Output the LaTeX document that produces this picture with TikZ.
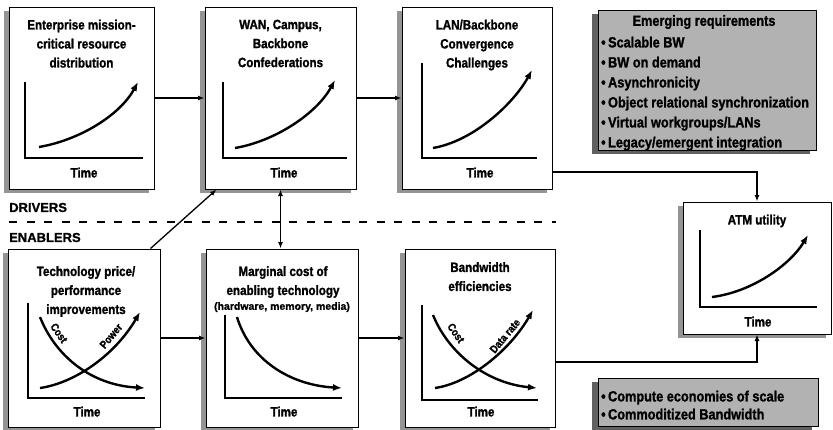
\documentclass[tikz,border=0pt]{standalone}
\usepackage{fontspec}
\setmainfont{Liberation Sans}[FakeStretch=0.86,BoldFeatures={FakeBold=1.3}]
\newfontfamily\widefont{Liberation Sans}[BoldFeatures={FakeBold=1.1}]
\usetikzlibrary{arrows.meta,shadows}
\begin{document}
\begin{tikzpicture}[x=1pt,y=-1pt,
  font=\bfseries\fontsize{13.5}{19}\selectfont,
  box/.style={draw,line width=1pt,fill=white,inner sep=0pt,
    general shadow={fill=black!42,shadow xshift=-5pt,shadow yshift=-4pt}},
  graybox/.style={draw,line width=1pt,fill=black!30,inner sep=0pt,
    general shadow={fill=black!62,shadow xshift=-6pt,shadow yshift=-4pt}},
  title/.style={align=center,inner sep=0pt,anchor=north},
  timelab/.style={inner sep=0pt,anchor=north},
  axis/.style={line width=1.3pt},
  curve/.style={line width=2.4pt,-{Latex[length=9pt,width=7pt]}},
  conn/.style={line width=1.3pt,-{Latex[length=6.5pt,width=5pt]}},
  twoway/.style={line width=1.3pt,{Latex[length=6.5pt,width=5pt]}-{Latex[length=6.5pt,width=5pt]}},
  curvelab/.style={inner sep=0pt,font=\bfseries\fontsize{11}{13}\selectfont},
  graytext/.style={inner sep=0pt,anchor=north west,align=left},
]
\useasboundingbox (0,0) rectangle (833,429);

% ---------- boxes ----------
\node[box,minimum width=145pt,minimum height=182pt] (b1) at (81.5,98) {};
\node[box,minimum width=151pt,minimum height=182pt] (b2) at (280.5,98) {};
\node[box,minimum width=150pt,minimum height=182pt] (b3) at (477,98) {};
\node[box,minimum width=152pt,minimum height=178pt] (b4) at (84,338) {};
\node[box,minimum width=152pt,minimum height=178pt] (b5) at (282,338) {};
\node[box,minimum width=150pt,minimum height=178pt] (b6) at (480,338) {};
\node[box,minimum width=148pt,minimum height=132pt] (atm) at (757,268) {};
\node[graybox,minimum width=218pt,minimum height=140pt] (req) at (707,80) {};
\node[graybox,minimum width=220pt,minimum height=48pt] (econ) at (708,402) {};

% ---------- titles ----------
\node[title] (t1) at (81.5,19.5) {Enterprise mission-\\critical resource\\distribution};
\node[title] (t2) at (280.5,19.5) {WAN, Campus,\\Backbone\\Confederations};
\node[title] (t3) at (477,19.5) {LAN/Backbone\\Convergence\\Challenges};
\node[title] (t4) at (86,266) {Technology price/\\performance\\improvements};
\node[title] (t5) at (283,266) {Marginal cost of\\enabling technology};
\node[title,font=\widefont\bfseries\fontsize{10.5}{12}\selectfont] (t5b) at (282,302) {(hardware, memory, media)};
\node[title] (t6) at (480,262) {Bandwidth\\efficiencies};
\node[title] (t7) at (757,214.5) {ATM utility};

% ---------- time labels ----------
\node[timelab] (tm1) at (84,167.5) {Time};
\node[timelab] (tm2) at (284,167.5) {Time};
\node[timelab] (tm3) at (480,167.5) {Time};
\node[timelab] (tm4) at (87,406.5) {Time};
\node[timelab] (tm5) at (284,406.5) {Time};
\node[timelab] (tm6) at (481,406.5) {Time};
\node[timelab] (tm7) at (758,316.5) {Time};

% ---------- small charts ----------
\draw[axis] (25,82) -- (25,158) -- (143,158);
\draw[curve] (39,147) .. controls (80,140) and (120,115) .. (138,82);

\draw[axis] (223,82) -- (223,158) -- (347,158);
\draw[curve] (235,148) .. controls (276,141) and (317,113) .. (335,80);

\draw[axis] (422,63) -- (422,158) -- (537,158);
\draw[curve] (433,148) .. controls (474,141) and (514,103) .. (532,70);

\draw[axis] (700,230) -- (700,307) -- (817,307);
\draw[curve] (712,297) .. controls (752,292) and (790,265) .. (808,235);

\draw[axis] (28,303) -- (28,398) -- (145,398);
\draw[curve] (40,388) .. controls (75,383) and (115,355) .. (140,312);
\draw[curve] (40,317) .. controls (55,355) and (90,385) .. (145,388);
\node[curvelab,rotate=-55] (c4) at (59,333) {Cost};
\node[curvelab,rotate=50] (p4) at (111,336) {Power};

\draw[axis] (225,315) -- (225,398) -- (342,398);
\draw[curve] (237,317) .. controls (250,360) and (290,385) .. (342,388);

\draw[axis] (422,305) -- (422,400) -- (538,400);
\draw[curve] (433,315) .. controls (448,352) and (485,383) .. (537,388);
\draw[curve] (435,388) .. controls (470,383) and (510,350) .. (533,310);
\node[curvelab,rotate=-55] (c6) at (456,333) {Cost};
\node[curvelab,rotate=50] (d6) at (505,336) {Data rate};

% ---------- gray box texts ----------
\node[inner sep=0pt,font=\bfseries\fontsize{14.8}{20}\selectfont] (rqt) at (704,22) {Emerging requirements};
\node[graytext,font=\bfseries\fontsize{14.8}{20}\selectfont] (rql) at (601,36.5)
  {•\,Scalable BW\\•\,BW on demand\\•\,Asynchronicity\\•\,Object relational synchronization\\•\,Virtual workgroups/LANs\\•\,Legacy/emergent integration};
\node[graytext,font=\bfseries\fontsize{14.8}{18}\selectfont] (ecl) at (601,390.5)
  {•\,Compute economies of scale\\•\,Commoditized Bandwidth};

% ---------- drivers / enablers ----------
\node[inner sep=0pt,anchor=west,font=\widefont\bfseries\fontsize{13}{15}\selectfont] (drv) at (9,207.5) {DRIVERS};
\node[inner sep=0pt,anchor=west,font=\widefont\bfseries\fontsize{13}{15}\selectfont] (enb) at (9,237.5) {ENABLERS};
\draw[line width=1.2pt,dash pattern=on 8pt off 9.5pt] (9,222) -- (556,222);

% ---------- connectors ----------
\draw[conn] (b1) -- (b2);
\draw[conn] (b2) -- (b3);
\draw[conn] (b4) -- (b5);
\draw[conn] (b5) -- (b6);
\draw[conn] ([yshift=-74pt]b3.east) -| (atm.north);
\draw[conn] ([yshift=-24pt]b6.east) -| (atm.south);
\draw[conn] ([xshift=-10pt]b4.north east) -- ([xshift=12pt]b2.south west);
\draw[twoway] (b2.south) -- (b2.south |- b5.north);
\end{tikzpicture}
\end{document}
